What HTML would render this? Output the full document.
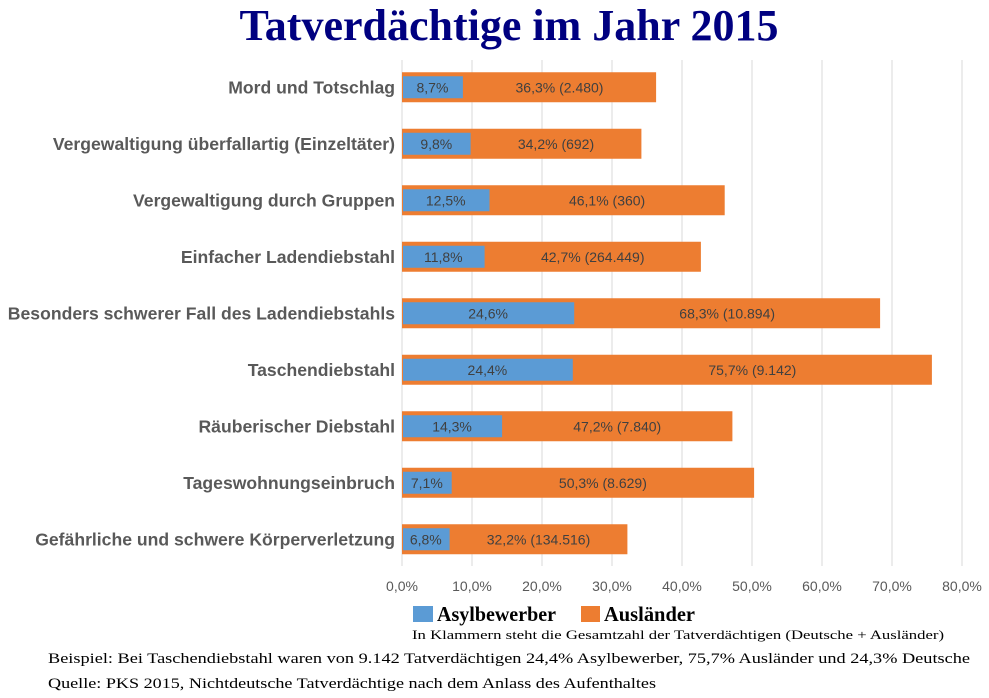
<!DOCTYPE html>
<html><head><meta charset="utf-8"><style>
body{margin:0;background:#fff;}
svg{display:block;}
</style></head><body>
<svg width="989" height="698" viewBox="0 0 989 698" xmlns="http://www.w3.org/2000/svg">
<text x="509" y="40" text-anchor="middle" font-family="Liberation Serif, serif" font-weight="bold" font-size="44" fill="#000080">Tatverdächtige im Jahr 2015</text>
<g id="grid"></g>
<g id="bars"></g>
<g id="legend">
<rect x="413" y="606" width="20" height="16" fill="#5b9bd5"/>
<text x="437" y="621" font-family="Liberation Serif, serif" font-weight="bold" font-size="21" fill="#000" textLength="119" lengthAdjust="spacingAndGlyphs">Asylbewerber</text>
<rect x="581" y="606" width="19" height="16" fill="#ed7d31"/>
<text x="604" y="621" font-family="Liberation Serif, serif" font-weight="bold" font-size="21" fill="#000" textLength="91" lengthAdjust="spacingAndGlyphs">Ausländer</text>
</g>
<text x="412" y="639" font-family="Liberation Serif, serif" font-size="13" fill="#000" textLength="532" lengthAdjust="spacingAndGlyphs">In Klammern steht die Gesamtzahl der Tatverdächtigen (Deutsche + Ausländer)</text>
<text x="48" y="663" font-family="Liberation Serif, serif" font-size="15" fill="#000" textLength="922" lengthAdjust="spacingAndGlyphs">Beispiel: Bei Taschendiebstahl waren von 9.142 Tatverdächtigen 24,4% Asylbewerber, 75,7% Ausländer und 24,3% Deutsche</text>
<text x="48" y="688" font-family="Liberation Serif, serif" font-size="15" fill="#000" textLength="608" lengthAdjust="spacingAndGlyphs">Quelle: PKS 2015, Nichtdeutsche Tatverdächtige nach dem Anlass des Aufenthaltes</text>
</svg>
<script>
const categories = ["Mord und Totschlag","Vergewaltigung überfallartig (Einzeltäter)","Vergewaltigung durch Gruppen","Einfacher Ladendiebstahl","Besonders schwerer Fall des Ladendiebstahls","Taschendiebstahl","Räuberischer Diebstahl","Tageswohnungseinbruch","Gefährliche und schwere Körperverletzung"];
const asylValues = [8.7,9.8,12.5,11.8,24.6,24.4,14.3,7.1,6.8];
const auslValues = [36.3,34.2,46.1,42.7,68.3,75.7,47.2,50.3,32.2];
const totals = ["2.480","692","360","264.449","10.894","9.142","7.840","8.629","134.516"];
const ticks = [0,10,20,30,40,50,60,70,80];

const NS="http://www.w3.org/2000/svg";
const x0=402,x1=962,xmax=80;
const X=v=>x0+(v/xmax)*(x1-x0);
const top0=59,step=56.5;
const Y=i=>top0+step*i+step/2;
const fmt=v=>v.toFixed(1).replace('.',',');
function mk(tag,attrs,parent){const e=document.createElementNS(NS,tag);for(const k in attrs)e.setAttribute(k,attrs[k]);parent.appendChild(e);return e;}
const grid=document.getElementById('grid'),bars=document.getElementById('bars');
ticks.forEach(t=>{
  const l=mk('line',{x1:X(t),x2:X(t),y1:60,y2:566,stroke:'#d9d9d9','stroke-width':1},grid);
  
  
  const tx=mk('text',{x:X(t),y:591,'text-anchor':'middle','font-family':'Liberation Sans, sans-serif','font-size':14,fill:'#595959'},grid);
  tx.textContent=fmt(t)+'%';
  
  
});
categories.forEach((c,i)=>{
  const cy=Y(i);
  const lab=mk('text',{x:395,y:cy+6,'text-anchor':'end','font-family':'Liberation Sans, sans-serif','font-weight':'bold','font-size':17.6,fill:'#595959'},bars);
  lab.textContent=c;
  
  
  const o=mk('rect',{x:X(0),y:cy-15,width:X(auslValues[i])-X(0),height:30,fill:'#ed7d31'},bars);
  
  
  const b=mk('rect',{x:X(0)+1,y:cy-11,width:X(asylValues[i])-X(0)-1,height:22,fill:'#5b9bd5'},bars);
  
  
  const bt=mk('text',{x:(X(0)+X(asylValues[i]))/2,y:cy+5,'text-anchor':'middle','font-family':'Liberation Sans, sans-serif','font-size':14,fill:'#404040'},bars);
  bt.textContent=fmt(asylValues[i])+'%';
  
  
  const ot=mk('text',{x:(X(asylValues[i])+X(auslValues[i]))/2,y:cy+5,'text-anchor':'middle','font-family':'Liberation Sans, sans-serif','font-size':14,fill:'#404040'},bars);
  ot.textContent=fmt(auslValues[i])+'% ('+totals[i]+')';
  
  
});
</script>
</body></html>
